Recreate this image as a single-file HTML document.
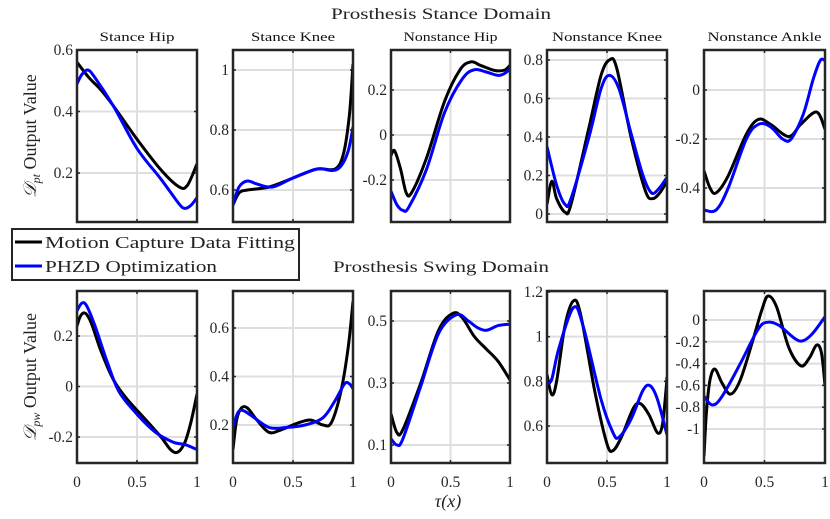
<!DOCTYPE html>
<html><head><meta charset="utf-8"><style>
body{margin:0;background:#fff}
svg{display:block;font-family:"Liberation Serif",serif}
text{font-family:"Liberation Serif",serif}
</style></head><body>
<svg id="s" width="830" height="519" viewBox="0 0 830 519" xmlns="http://www.w3.org/2000/svg">
<text x="331" y="19" font-size="16" textLength="220" lengthAdjust="spacingAndGlyphs" fill="#222">Prosthesis Stance Domain</text>
<text x="333" y="272" font-size="16" textLength="216" lengthAdjust="spacingAndGlyphs" fill="#222">Prosthesis Swing Domain</text>
<text x="448" y="507" font-size="18" text-anchor="middle" font-style="italic" fill="#222">τ(x)</text>
<text transform="translate(36,136) rotate(-90)" font-size="18" text-anchor="middle" fill="#222"><tspan font-style="italic">𝒟</tspan><tspan font-size="12" dy="4" font-style="italic">pt</tspan><tspan dy="-4"> Output Value</tspan></text>
<text transform="translate(36,377) rotate(-90)" font-size="18" text-anchor="middle" fill="#222"><tspan font-style="italic">𝒟</tspan><tspan font-size="12" dy="4" font-style="italic">pw</tspan><tspan dy="-4"> Output Value</tspan></text>
<g id="g"></g>
<rect x="12" y="229" width="287" height="51" fill="#fff" stroke="#262626" stroke-width="2"/>
<line x1="15" y1="242" x2="42" y2="242" stroke="#000" stroke-width="3"/>
<line x1="15" y1="266" x2="42" y2="266" stroke="#0000ff" stroke-width="3"/>
<text x="45" y="248" font-size="17" textLength="250" lengthAdjust="spacingAndGlyphs" fill="#222">Motion Capture Data Fitting</text>
<text x="45" y="272" font-size="17" textLength="172" lengthAdjust="spacingAndGlyphs" fill="#222">PHZD Optimization</text>
</svg>
<script>
const NS="http://www.w3.org/2000/svg";const g=document.getElementById('g');
function el(t,a,txt){const e=document.createElementNS(NS,t);for(const k in a)e.setAttribute(k,a[k]);if(txt!==undefined)e.textContent=txt;g.appendChild(e);return e;}
const xs=[[77,197],[233,353],[391,510],[547,667],[704,825]];
const TL=[75,84,94,110,114];
const P=[
{r:0,t:"Stance Hip",ref:[[0.6,50],[0.2,173]],ticks:[0.2,0.4,0.6],lab:v=>v.toFixed(1),
 b:[[0,0.56],[0.1,0.51],[0.2,0.47],[0.3,0.42],[0.5,0.31],[0.7,0.21],[0.85,0.155],[0.92,0.16],[1,0.23]],
 u:[[0,0.49],[0.04,0.52],[0.09,0.535],[0.15,0.51],[0.3,0.42],[0.5,0.28],[0.7,0.18],[0.85,0.1],[0.9,0.085],[0.95,0.095],[1,0.12]]},
{r:0,t:"Stance Knee",ref:[[1,70],[0.6,190]],ticks:[0.6,0.8,1],lab:v=>v==1?"1":v.toFixed(1),
 b:[[0,0.55],[0.05,0.59],[0.12,0.6],[0.3,0.61],[0.5,0.64],[0.7,0.67],[0.85,0.67],[0.92,0.72],[0.97,0.85],[1,1.02]],
 u:[[0,0.55],[0.05,0.61],[0.12,0.63],[0.2,0.62],[0.33,0.61],[0.5,0.64],[0.7,0.67],[0.83,0.665],[0.9,0.68],[0.96,0.73],[1,0.81]]},
{r:0,t:"Nonstance Hip",ref:[[0.2,90],[-0.2,180]],ticks:[-0.2,0,0.2],lab:v=>v==0?"0":v.toFixed(1),
 b:[[0,-0.09],[0.03,-0.07],[0.08,-0.15],[0.13,-0.26],[0.18,-0.25],[0.3,-0.1],[0.45,0.15],[0.58,0.29],[0.67,0.325],[0.75,0.31],[0.85,0.29],[0.9,0.285],[0.96,0.29],[1,0.31]],
 u:[[0,-0.25],[0.05,-0.31],[0.1,-0.335],[0.15,-0.32],[0.3,-0.15],[0.45,0.1],[0.6,0.25],[0.7,0.29],[0.8,0.28],[0.9,0.265],[0.96,0.275],[1,0.295]]},
{r:0,t:"Nonstance Knee",ref:[[0.8,60],[0,214]],ticks:[0,0.2,0.4,0.6,0.8],lab:v=>v==0?"0":v.toFixed(1),
 b:[[0,0.05],[0.04,0.17],[0.08,0.08],[0.15,0.01],[0.2,0.05],[0.35,0.45],[0.45,0.72],[0.52,0.8],[0.58,0.76],[0.7,0.4],[0.82,0.12],[0.88,0.08],[0.94,0.11],[1,0.17]],
 u:[[0,0.35],[0.08,0.15],[0.15,0.05],[0.2,0.08],[0.35,0.4],[0.45,0.65],[0.52,0.72],[0.6,0.65],[0.7,0.42],[0.8,0.2],[0.87,0.11],[0.93,0.13],[1,0.19]]},
{r:0,t:"Nonstance Ankle",ref:[[0,90],[-0.4,188]],ticks:[-0.4,-0.2,0],lab:v=>v==0?"0":v.toFixed(1),
 b:[[0,-0.33],[0.05,-0.4],[0.1,-0.42],[0.2,-0.35],[0.35,-0.18],[0.45,-0.12],[0.55,-0.14],[0.7,-0.19],[0.8,-0.14],[0.93,-0.09],[1,-0.16]],
 u:[[0,-0.49],[0.1,-0.49],[0.2,-0.4],[0.35,-0.2],[0.45,-0.14],[0.55,-0.15],[0.65,-0.2],[0.72,-0.2],[0.82,-0.1],[0.9,0.04],[0.96,0.12],[1,0.12]]},
{r:1,ref:[[0.2,336],[-0.2,437]],ticks:[-0.2,0,0.2],lab:v=>v==0?"0":v.toFixed(1),
 b:[[0,0.24],[0.03,0.28],[0.07,0.29],[0.12,0.25],[0.2,0.14],[0.3,0.03],[0.4,-0.04],[0.55,-0.12],[0.7,-0.2],[0.78,-0.25],[0.84,-0.26],[0.9,-0.22],[0.95,-0.14],[1,-0.03]],
 u:[[0,0.3],[0.04,0.33],[0.08,0.32],[0.15,0.24],[0.25,0.1],[0.35,-0.02],[0.5,-0.11],[0.65,-0.18],[0.8,-0.22],[0.9,-0.23],[1,-0.25]]},
{r:1,ref:[[0.6,328],[0.2,425]],ticks:[0.2,0.4,0.6],lab:v=>v.toFixed(1),
 b:[[0,0.1],[0.03,0.22],[0.07,0.27],[0.12,0.27],[0.2,0.22],[0.3,0.17],[0.4,0.18],[0.55,0.21],[0.65,0.22],[0.75,0.2],[0.82,0.21],[0.9,0.34],[0.96,0.52],[1,0.71]],
 u:[[0,0.19],[0.04,0.25],[0.08,0.26],[0.15,0.24],[0.3,0.19],[0.45,0.19],[0.6,0.2],[0.75,0.23],[0.85,0.3],[0.93,0.37],[0.97,0.37],[1,0.35]]},
{r:1,ref:[[0.5,321],[0.1,445]],ticks:[0.1,0.3,0.5],lab:v=>v.toFixed(1),
 b:[[0,0.2],[0.05,0.14],[0.1,0.15],[0.25,0.3],[0.4,0.47],[0.52,0.525],[0.6,0.51],[0.7,0.45],[0.8,0.41],[0.9,0.37],[1,0.31]],
 u:[[0,0.12],[0.05,0.1],[0.1,0.12],[0.25,0.29],[0.4,0.46],[0.55,0.52],[0.65,0.5],[0.72,0.48],[0.8,0.47],[0.9,0.485],[1,0.49]]},
{r:1,ref:[[1.2,292],[0.6,426]],ticks:[0.6,0.8,1,1.2],lab:v=>v==1?"1":v.toFixed(1),
 b:[[0,0.83],[0.04,0.74],[0.08,0.8],[0.15,1.05],[0.22,1.16],[0.28,1.1],[0.4,0.75],[0.5,0.52],[0.55,0.49],[0.62,0.55],[0.72,0.68],[0.78,0.7],[0.85,0.65],[0.92,0.57],[0.96,0.6],[0.99,0.75],[1,0.82]],
 u:[[0,0.79],[0.04,0.81],[0.1,0.95],[0.22,1.13],[0.3,1.05],[0.45,0.72],[0.55,0.57],[0.6,0.55],[0.7,0.63],[0.8,0.76],[0.86,0.78],[0.92,0.72],[1,0.56]]},
{r:1,ref:[[0,320],[-1,429]],ticks:[-1,-0.8,-0.6,-0.4,-0.2,0],lab:v=>v==0?"0":v==-1?"-1":v.toFixed(1),
 b:[[0,-1.25],[0.02,-0.85],[0.05,-0.55],[0.09,-0.45],[0.15,-0.58],[0.22,-0.68],[0.3,-0.55],[0.4,-0.2],[0.48,0.1],[0.53,0.22],[0.6,0.12],[0.7,-0.25],[0.8,-0.42],[0.87,-0.35],[0.93,-0.23],[0.97,-0.3],[1,-0.6]],
 u:[[0,-0.7],[0.07,-0.78],[0.15,-0.7],[0.3,-0.4],[0.45,-0.08],[0.53,-0.02],[0.62,-0.05],[0.75,-0.17],[0.82,-0.19],[0.9,-0.12],[1,0.03]]}
];
function spline(pts){let d="M"+pts[0][0]+","+pts[0][1];
 for(let i=0;i<pts.length-1;i++){const p0=pts[Math.max(0,i-1)],p1=pts[i],p2=pts[i+1],p3=pts[Math.min(pts.length-1,i+2)];
 const c1=[p1[0]+(p2[0]-p0[0])/6,p1[1]+(p2[1]-p0[1])/6],c2=[p2[0]-(p3[0]-p1[0])/6,p2[1]-(p3[1]-p1[1])/6];
 d+=` C${c1[0].toFixed(1)},${c1[1].toFixed(1)} ${c2[0].toFixed(1)},${c2[1].toFixed(1)} ${p2[0].toFixed(1)},${p2[1].toFixed(1)}`;}return d;}
P.forEach((p,i)=>{const [x0,x1]=xs[i%5];const y0=p.r?291:50,y1=p.r?463:222;
 const [[va,pa],[vb,pb]]=p.ref;const Y=v=>pa+(v-va)*(pb-pa)/(vb-va);const X=t=>x0+t*(x1-x0);
 const xm=X(0.5);el('line',{x1:xm,y1:y0,x2:xm,y2:y1,stroke:'#dedede','stroke-width':2});
 p.ticks.forEach(v=>{const y=Y(v);el('line',{x1:x0,y1:y,x2:x1,y2:y,stroke:'#dedede','stroke-width':2});
  el('line',{x1:x0,y1:y,x2:x0+3,y2:y,stroke:'#262626','stroke-width':1.5});el('line',{x1:x1-3,y1:y,x2:x1,y2:y,stroke:'#262626','stroke-width':1.5});
  el('text',{x:x0-4,y:y+5,'font-size':15.5,'text-anchor':'end',fill:'#262626'},p.lab(v));});
 [0,0.5,1].forEach(t=>{el('line',{x1:X(t),y1:y0,x2:X(t),y2:y0+3,stroke:'#262626','stroke-width':1.5});el('line',{x1:X(t),y1:y1-3,x2:X(t),y2:y1,stroke:'#262626','stroke-width':1.5});
  if(p.r)el('text',{x:X(t),y:487,'font-size':15.5,'text-anchor':'middle',fill:'#262626'},t==0.5?"0.5":String(t));});
 const cp=el('clipPath',{id:'c'+i});const r=document.createElementNS(NS,'rect');r.setAttribute('x',x0);r.setAttribute('y',y0);r.setAttribute('width',x1-x0);r.setAttribute('height',y1-y0);cp.appendChild(r);
 [['b','#000'],['u','#0000ff']].forEach(([k,c])=>{el('path',{d:spline(p[k].map(q=>[X(q[0]),Y(q[1])])),fill:'none',stroke:c,'stroke-width':3,'clip-path':`url(#c${i})`});});
 el('rect',{x:x0,y:y0,width:x1-x0,height:y1-y0,fill:'none',stroke:'#262626','stroke-width':2.5});
 if(p.t)el('text',{x:(x0+x1)/2-TL[i]/2,y:41,'font-size':13,textLength:TL[i],lengthAdjust:'spacingAndGlyphs',fill:'#111'},p.t);
});
</script>
</body></html>
